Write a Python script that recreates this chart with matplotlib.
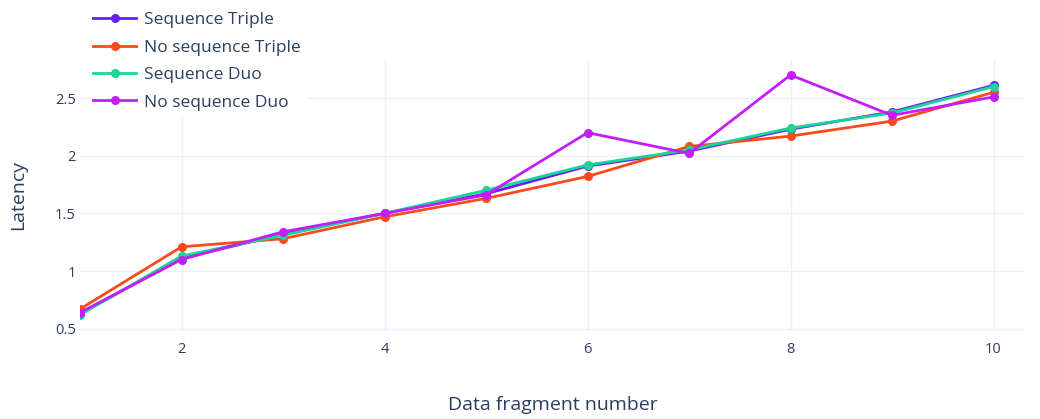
import matplotlib.pyplot as plt
from matplotlib.lines import Line2D

# fragment numbers on the x axis
fragments = [1, 2, 3, 4, 5, 6, 7, 8, 9, 10]

# latency per series
seq_triple = [0.63, 1.11, 1.32, 1.50, 1.67, 1.91, 2.04, 2.23, 2.38, 2.61]
noseq_triple = [0.67, 1.21, 1.28, 1.47, 1.63, 1.82, 2.08, 2.17, 2.30, 2.55]
seq_duo = [0.62, 1.13, 1.31, 1.50, 1.70, 1.92, 2.05, 2.24, 2.37, 2.60]
noseq_duo = [0.64, 1.10, 1.34, 1.50, 1.66, 2.20, 2.02, 2.70, 2.35, 2.51]

series_names = ["Sequence Triple", "No sequence Triple", "Sequence Duo", "No sequence Duo"]
series_colors = ["#6a1df2", "#fb4a1c", "#1ad598", "#c31ef7"]

x_ticks = [2, 4, 6, 8, 10]
y_ticks = [0.5, 1, 1.5, 2, 2.5]

TEXT = "#2a3f5f"
GRID = "#ebf0f8"

plt.rcParams["font.family"] = ["Open Sans", "DejaVu Sans"]


def plot_latency():
    fig = plt.figure(figsize=(10.4, 4.19), dpi=100)
    ax = fig.add_axes([80 / 1040, (419 - 331) / 419, (1025 - 80) / 1040, (331 - 60) / 419])

    data = [seq_triple, noseq_triple, seq_duo, noseq_duo]
    handles = []
    for name, values, color in zip(series_names, data, series_colors):
        ax.plot(fragments, values, color=color, linewidth=2, marker="o",
                markersize=5.5, zorder=3)
        handles.append(Line2D([], [], color=color, linewidth=2, marker="o",
                              markersize=5.5, label=name))

    ax.set_xlim(1.0, 10.31)
    ax.set_ylim(0.48, 2.83)
    ax.set_xticks(x_ticks)
    ax.set_xticklabels([str(t) for t in x_ticks])
    ax.set_yticks(y_ticks)
    ax.set_yticklabels(["0.5", "1", "1.5", "2", "2.5"])

    ax.grid(True, color=GRID, linewidth=1, zorder=0)
    for side in ax.spines.values():
        side.set_visible(False)
    ax.tick_params(length=0, labelsize=10.5, colors=TEXT)
    ax.tick_params(axis="y", pad=3)
    ax.tick_params(axis="x", pad=8)

    ax.set_xlabel("Data fragment number", fontsize=14, color=TEXT, labelpad=28)
    ax.set_ylabel("Latency", fontsize=14, color=TEXT, labelpad=20)

    leg = ax.legend(handles=handles, loc="upper left", bbox_to_anchor=(-0.001, 1.228),
                    frameon=True, fontsize=12.5, handlelength=2.5, handletextpad=0.45,
                    labelspacing=0.65, borderpad=0.3, labelcolor=TEXT)
    leg.get_frame().set_facecolor("white")
    leg.get_frame().set_edgecolor("white")
    leg.get_frame().set_alpha(1)
    leg.set_zorder(5)

    fig.savefig("out.png", dpi=100)


if __name__ == "__main__":
    plot_latency()
